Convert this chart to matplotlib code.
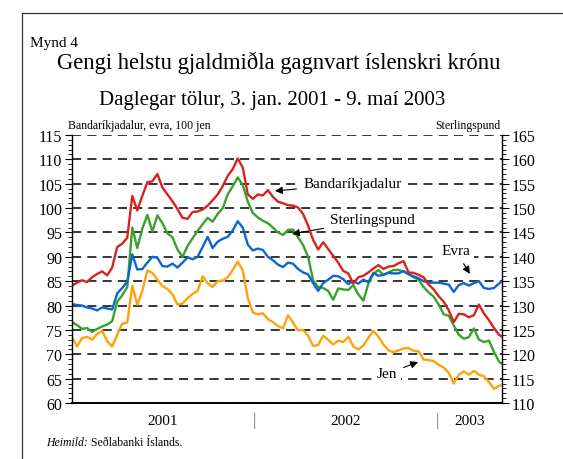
import matplotlib.pyplot as plt
import matplotlib.transforms as mtransforms
from matplotlib.lines import Line2D
from matplotlib.ticker import MultipleLocator
import pandas as pd

plt.rcParams['font.family'] = ['Liberation Serif', 'DejaVu Serif']

# days since 3. jan. 2001 (every 10 days, last point 9. maí 2003)
days = list(range(0, 851, 10)) + [856]

usd = [84.1, 84.7, 85.2, 84.8, 85.8, 86.5, 87.0, 86.2, 87.8, 92.0,
       92.7, 93.9, 102.5, 99.5, 102.5, 105.3, 105.5, 107.0, 104.2, 102.8,
       101.4, 99.8, 98.0, 97.8, 99.2, 99.3, 99.7, 100.5, 101.6, 102.8,
       104.5, 106.6, 108.0, 110.2, 108.3, 102.8, 101.9, 102.8, 102.6, 103.7,
       102.3, 101.3, 101.0, 100.6, 100.5, 100.1, 98.8, 96.4, 93.5, 91.5,
       93.0, 91.6, 90.2, 88.8, 87.1, 86.6, 84.5, 85.8, 86.1, 86.8,
       87.6, 88.3, 87.5, 88.0, 88.1, 88.7, 89.1, 86.8, 86.7, 86.3,
       85.8, 84.3, 83.3, 81.9, 80.8, 79.0, 76.6, 78.3, 78.2, 77.6,
       78.0, 80.2, 78.4, 77.0, 75.4, 74.0, 73.6]

gbp = [126.6, 126.0, 125.2, 125.4, 124.6, 125.2, 125.7, 126.1, 126.8, 130.8,
       132.1, 133.8, 146.0, 141.8, 145.8, 148.6, 145.2, 148.5, 146.9, 144.8,
       144.0, 141.5, 140.0, 142.2, 143.8, 145.3, 146.7, 148.0, 147.2, 148.8,
       150.0, 152.8, 154.5, 156.3, 154.7, 151.3, 149.0, 148.1, 147.4, 146.9,
       146.0, 145.0, 144.5, 145.5, 145.6, 144.0, 142.4, 140.0, 135.2, 133.8,
       133.6, 133.0, 131.2, 133.5, 133.3, 133.2, 134.2, 132.3, 131.0, 134.5,
       136.5, 137.3, 136.3, 136.8, 137.3, 137.3, 137.0, 136.5, 135.8, 135.3,
       133.8, 132.7, 131.8, 130.2, 128.2, 127.9, 125.9, 124.0, 123.2, 123.5,
       125.3, 123.0, 122.5, 122.8, 120.5, 118.5, 118.0]

eur = [80.3, 80.1, 80.0, 79.6, 79.4, 79.0, 79.6, 79.4, 79.2, 82.5,
       83.6, 84.9, 90.5, 87.4, 87.5, 88.8, 90.0, 89.8, 88.1, 88.0,
       88.6, 87.8, 88.8, 89.9, 89.5, 90.0, 92.0, 94.1, 91.8, 93.1,
       93.7, 94.1, 95.4, 97.3, 96.0, 92.5, 91.3, 91.7, 91.4, 90.0,
       89.3, 88.4, 87.9, 88.8, 88.6, 87.5, 86.8, 86.4, 84.6, 83.0,
       84.6, 85.3, 86.1, 86.0, 85.4, 84.4, 85.0, 84.5, 85.3, 84.8,
       86.7, 86.1, 86.3, 86.7, 86.6, 86.6, 87.1, 86.4, 86.0, 85.6,
       85.0, 84.7, 84.7, 84.7, 84.5, 84.3, 82.8, 84.2, 84.6, 84.1,
       84.6, 85.0, 83.6, 83.4, 83.6, 84.5, 85.0]

jpy = [73.5, 71.6, 73.3, 73.6, 73.0, 74.2, 74.8, 72.7, 71.6, 74.0,
       76.3, 76.5, 84.0, 80.2, 83.0, 87.2, 86.7, 85.3, 84.0, 83.4,
       82.3, 80.2, 80.4, 81.5, 82.4, 83.0, 86.0, 84.6, 83.8, 85.0,
       85.1, 85.8, 87.3, 89.0, 87.2, 81.5, 78.6, 78.2, 78.4, 77.2,
       76.6, 75.8, 75.3, 78.0, 76.5, 74.9, 75.0, 73.8, 71.7, 71.9,
       73.8, 73.0, 72.0, 72.8, 72.5, 73.6, 71.6, 71.0, 71.8, 73.4,
       74.8, 73.6, 72.0, 70.8, 70.4, 70.8, 71.2, 71.3, 70.7, 70.6,
       68.9, 68.8, 68.6, 67.8, 67.3, 66.2, 64.0, 65.8, 66.5, 65.8,
       66.6, 65.8, 65.5, 64.3, 62.9, 63.5, 63.8]

years = ['2001', '2002', '2003']
year_mid = ['2001-07-02', '2002-07-02', '2003-03-05']
year_breaks = ['2002-01-01', '2003-01-01']

start = pd.Timestamp('2001-01-03')
dates = start + pd.to_timedelta(days, unit='D')

W, H = 563, 460
fig = plt.figure(figsize=(W / 100, H / 100), dpi=100)


def fx(x):
    return x / W


def fy(y):
    return 1 - y / H


# frame around the figure (cut at right and bottom)
fig.add_artist(Line2D([fx(22), 1.0], [fy(14), fy(14)], color='#333333', lw=0.9))
fig.add_artist(Line2D([fx(22), fx(22)], [fy(14), 0.0], color='#333333', lw=0.9))

ax2 = fig.add_axes([fx(72), fy(404), fx(502) - fx(72), fy(136) - fy(404)])
ax = ax2.twinx()
ax.yaxis.tick_left()
ax2.yaxis.tick_right()
ax.set_zorder(ax2.get_zorder() + 1)
ax.patch.set_visible(False)

# Sterlingspund on right scale, drawn underneath
ax2.plot(dates, gbp, color='#36a329', lw=1.7)
ax.plot(dates, eur, color='#0b66cf', lw=1.7)
ax.plot(dates, jpy, color='#ffa20a', lw=1.7)
ax.plot(dates, usd, color='#d8231c', lw=1.7)

ax.set_ylim(60, 115)
ax2.set_ylim(110, 165)
ax.set_xlim(dates[0], pd.Timestamp('2003-05-09'))

for a in (ax, ax2):
    a.yaxis.set_major_locator(MultipleLocator(5))
    a.yaxis.set_minor_locator(MultipleLocator(1))
    a.tick_params(axis='y', which='major', direction='out', length=5, width=0.8,
                  labelsize=11.5, pad=2, colors='black')
    a.tick_params(axis='y', which='minor', direction='out', length=3, width=0.6)
    a.set_xticks([])
    a.spines['top'].set_visible(False)

ax.spines['right'].set_visible(False)
ax2.spines['left'].set_visible(False)
ax.spines['left'].set_linewidth(1.0)
ax2.spines['right'].set_linewidth(1.0)
ax.spines['bottom'].set_linewidth(1.4)
ax2.spines['bottom'].set_visible(False)

# dashed grid
ax2.yaxis.grid(True, which='major', color='black', lw=1.1, linestyle=(0, (6, 4)))
ax2.set_axisbelow(True)

# year labels under the axis
trans = mtransforms.blended_transform_factory(ax.transData, ax.transAxes)
for lab, mid in zip(years, year_mid):
    ax.text(pd.Timestamp(mid), -0.065, lab, transform=trans, ha='center', va='center',
            fontsize=11)
for b in year_breaks:
    ax.text(pd.Timestamp(b), -0.065, '|', transform=trans, ha='center', va='center',
            fontsize=12, color='#777777')

# series labels
box = dict(boxstyle='square,pad=0.25', fc='white', ec='none')
arrow = dict(arrowstyle='-|>', color='black', lw=0.8, mutation_scale=11,
             shrinkA=2, shrinkB=0)
ax.annotate('Bandaríkjadalur', xy=(start + pd.Timedelta(days=404), 103.5),
            xytext=(start + pd.Timedelta(days=460), 105.0),
            ha='left', va='center', fontsize=11, bbox=box, arrowprops=arrow)
ax2.annotate('Sterlingspund', xy=(start + pd.Timedelta(days=438), 144.7),
             xytext=(start + pd.Timedelta(days=514), 147.6),
             ha='left', va='center', fontsize=11, bbox=box, arrowprops=arrow)
ax.annotate('Evra', xy=(start + pd.Timedelta(days=792), 86.5),
            xytext=(start + pd.Timedelta(days=764), 91.2),
            ha='center', va='center', fontsize=11, bbox=box, arrowprops=arrow)
ax.annotate('Jen', xy=(start + pd.Timedelta(days=689), 68.4),
            xytext=(start + pd.Timedelta(days=627), 66.0),
            ha='center', va='center', fontsize=11, bbox=box, arrowprops=arrow)

# titles and notes
fig.text(fx(30), fy(43), 'Mynd 4', ha='left', va='center', fontsize=11)
fig.text(fx(279), fy(63), 'Gengi helstu gjaldmiðla gagnvart íslenskri krónu',
         ha='center', va='center', fontsize=16.3)
fig.text(fx(272), fy(101), 'Daglegar tölur, 3. jan. 2001 - 9. maí 2003',
         ha='center', va='center', fontsize=15)
fig.text(fx(68), fy(126), 'Bandaríkjadalur, evra, 100 jen', ha='left', va='center',
         fontsize=8.5)
fig.text(fx(500), fy(126), 'Sterlingspund', ha='right', va='center', fontsize=8.5)

src1 = fig.text(fx(46), fy(443), 'Heimild:', ha='left', va='center', fontsize=8.5,
                style='italic')
fig.canvas.draw()
ext = src1.get_window_extent()
fig.text(ext.x1 / W + 0.006, fy(443), 'Seðlabanki Íslands.', ha='left', va='center',
         fontsize=8.5)

fig.savefig('out.png', dpi=100)
